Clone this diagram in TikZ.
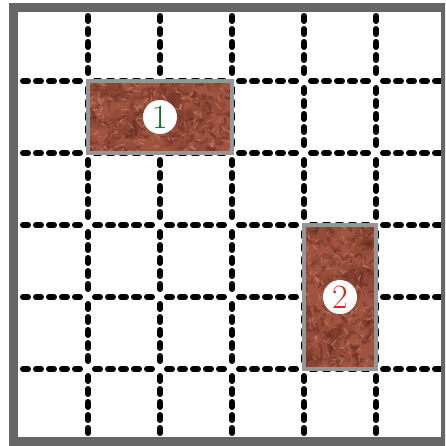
\documentclass[tikz,border=0pt]{standalone}
\definecolor{marco}{RGB}{102,102,102}
\definecolor{bordep}{RGB}{150,150,150}
\definecolor{tierra}{RGB}{160,84,64}
\definecolor{tierraosc}{RGB}{96,40,30}
\definecolor{tierracla}{RGB}{212,146,122}
\definecolor{verde1}{RGB}{22,110,36}
\definecolor{rojo2}{RGB}{206,44,30}

\begin{document}
\begin{tikzpicture}[x=1pt, y=-1pt,
  rejilla/.style={line width=6pt, line cap=round, dash pattern=on 5pt off 8pt},
  parcela/.style={fill=tierra, inner sep=0pt, minimum width=#1},
  marca/.style={circle, fill=white, inner sep=0pt, minimum size=34pt,
    font=\fontsize{34}{34}\selectfont}]
  \def\ox{16} \def\oy{9} \def\cel{72}
  \useasboundingbox (0,0) rectangle (445,446);
  \clip (0,0) rectangle (445,446);
  \fill[white] (0,0) rectangle (445,446);
  % rejilla punteada, un tramo por lado de celda
  \foreach \k in {1,...,5} {
    \foreach \j in {0,...,5} {
      \draw[rejilla] (\ox+\cel*\k, \oy+\cel*\j+7) -- (\ox+\cel*\k, \oy+\cel*\j+65);
      \draw[rejilla] (\ox+\cel*\j+7, \oy+\cel*\k) -- (\ox+\cel*\j+65, \oy+\cel*\k);
    }
  }
  % parcelas
  \node[parcela=144pt, minimum height=72pt] (p1) at (160,117) {};
  \node[parcela=72pt, minimum height=144pt] (p2) at (340,297) {};
  % textura de tierra, manchas al azar recortadas a cada parcela
  \pgfmathsetseed{11}
  \foreach \p/\w/\h in {p1/144/72, p2/72/144} {
    \begin{scope}
      \clip (\p.south west) rectangle (\p.north east);
      \foreach \i in {1,...,40} {
        \pgfmathsetmacro{\tx}{(rnd-0.5)*\w}
        \pgfmathsetmacro{\ty}{(rnd-0.5)*\h}
        \pgfmathsetmacro{\tr}{6+10*rnd}
        \pgfmathsetmacro{\ta}{360*rnd}
        \fill[tierraosc, opacity=0.18, shift={(\p.center)}, shift={(\tx,\ty)}, rotate=\ta]
          (0,0) ellipse [x radius=\tr, y radius=0.6*\tr];
      }
      \foreach \i in {1,...,260} {
        \pgfmathsetmacro{\tx}{(rnd-0.5)*\w}
        \pgfmathsetmacro{\ty}{(rnd-0.5)*\h}
        \pgfmathsetmacro{\tr}{1.5+4*rnd}
        \pgfmathsetmacro{\ta}{360*rnd}
        \fill[tierraosc, opacity=0.35, shift={(\p.center)}, shift={(\tx,\ty)}, rotate=\ta]
          (0,0) ellipse [x radius=\tr, y radius=0.35*\tr];
      }
      \foreach \i in {1,...,200} {
        \pgfmathsetmacro{\tx}{(rnd-0.5)*\w}
        \pgfmathsetmacro{\ty}{(rnd-0.5)*\h}
        \pgfmathsetmacro{\tr}{1+3*rnd}
        \pgfmathsetmacro{\ta}{360*rnd}
        \fill[tierracla, opacity=0.4, shift={(\p.center)}, shift={(\tx,\ty)}, rotate=\ta]
          (0,0) ellipse [x radius=\tr, y radius=0.25*\tr];
      }
    \end{scope}
    \draw[bordep, line width=4pt] (\p.south west) rectangle (\p.north east);
  }
  % numeros de parcela
  \node[marca, text=verde1] (n1) at (p1.center) {1};
  \node[marca, text=rojo2] (n2) at (p2.center) {2};
  % marco exterior
  \draw[marco, line width=9pt] (13.5,8) rectangle (445.5,441.5);
\end{tikzpicture}
\end{document}
